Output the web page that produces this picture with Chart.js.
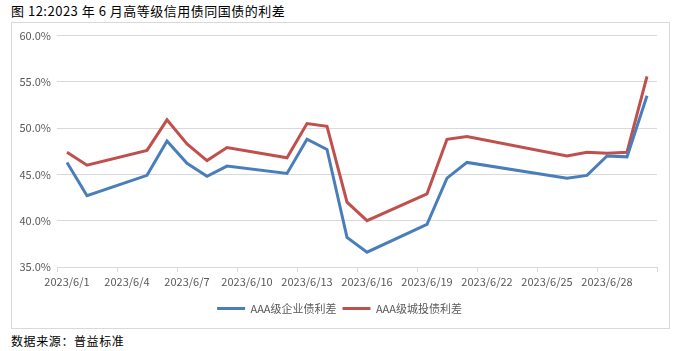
<!DOCTYPE html>
<html>
<head>
<meta charset="utf-8">
<script src="https://cdn.jsdelivr.net/npm/chart.js@4/dist/chart.umd.min.js"></script>
<style>
    body { margin: 0; width: 679px; height: 351px; background: #fff; position: relative; overflow: hidden;
           font-family: "Noto Sans CJK SC", "Noto Sans", sans-serif; }
    .title { position: absolute; left: 11px; top: 1px; font-size: 13px; color: #000; letter-spacing: 0.5px; white-space: nowrap; }
    .frame { position: absolute; left: 11px; top: 22px; width: 657px; height: 305px; border: 1px solid #d9d9d9; }
    .frame canvas { display: block; }
    .source { position: absolute; left: 11px; top: 332px; font-size: 12px; color: #000; letter-spacing: 0.6px; white-space: nowrap; }
</style>
</head>
<body>
<div class="title">图 12:2023 年 6 月高等级信用债同国债的利差</div>
<div class="frame"><canvas id="chart" width="657" height="305"></canvas></div>
<div class="source">数据来源：普益标准</div>
<script>
// every calendar day of June 2023; weekends and holidays have no value
const days = [];
for (let d = 1; d <= 30; d++) days.push('2023/6/' + d);

const corporateSpread = [
    46.3, 42.7, null, null, 44.9, 48.6, 46.2, 44.8, 45.9, null,
    null, 45.1, 48.8, 47.7, 38.2, 36.6, null, null, 39.6, 44.6,
    46.3, null, null, null, null, 44.6, 44.9, 47.0, 46.9, 53.5
];
const chengtouSpread = [
    47.4, 46.0, null, null, 47.6, 50.9, 48.3, 46.5, 47.9, null,
    null, 46.8, 50.5, 50.2, 42.0, 40.0, null, null, 42.9, 48.8,
    49.1, null, null, null, null, 47.0, 47.4, 47.3, 47.4, 55.6
];
const seriesNames = ['AAA级企业债利差', 'AAA级城投债利差'];
const yTicks = { min: 35, max: 60, step: 5 };

const blue = '#4a7ebb';
const red = '#c0504d';
const grey = '#d9d9d9';
const labelColor = '#595959';
const font = { family: '"Noto Sans CJK SC", "Noto Sans", sans-serif', size: 11 };

// the legend sits centred on the whole frame, not on the plot
const legendShift = {
    id: 'legendShift',
    afterLayout: function (chart) {
        chart.legend.left += 5;
        chart.legend.right += 5;
    }
};

new Chart(document.getElementById('chart').getContext('2d'), {
    type: 'line',
    data: {
        labels: days,
        datasets: [{
            label: seriesNames[0],
            data: corporateSpread,
            borderColor: blue,
            backgroundColor: blue,
            borderWidth: 3,
            pointRadius: 0,
            spanGaps: true,
            tension: 0
        }, {
            label: seriesNames[1],
            data: chengtouSpread,
            borderColor: red,
            backgroundColor: red,
            borderWidth: 3,
            pointRadius: 0,
            spanGaps: true,
            tension: 0
        }]
    },
    options: {
        responsive: false,
        animation: false,
        events: [],
        layout: { padding: { top: 12, right: 12, left: 0, bottom: 4 } },
        plugins: {
            tooltip: { enabled: false },
            legend: {
                position: 'bottom',
                labels: {
                    color: labelColor,
                    font: font,
                    boxWidth: 28,
                    boxHeight: 3,
                    padding: 6,
                    generateLabels: function (chart) {
                        const items = Chart.defaults.plugins.legend.labels.generateLabels(chart);
                        items.forEach(function (item) { item.lineWidth = 0; });
                        return items;
                    }
                }
            }
        },
        scales: {
            x: {
                offset: true,
                grid: {
                    offset: true,
                    drawOnChartArea: false,
                    tickLength: 5,
                    color: function (ctx) {
                        return (ctx.index === undefined || ctx.index % 3 === 0) ? grey : 'rgba(0,0,0,0)';
                    }
                },
                border: { color: grey },
                ticks: {
                    autoSkip: false,
                    maxRotation: 0,
                    minRotation: 0,
                    padding: 3,
                    color: labelColor,
                    font: font,
                    callback: function (value, index) {
                        return index % 3 === 0 ? days[index] : '';
                    }
                },
                afterFit: function (scale) { scale.height = 30; }
            },
            y: {
                min: yTicks.min,
                max: yTicks.max,
                grid: { color: grey, drawTicks: false },
                border: { display: false },
                ticks: {
                    stepSize: yTicks.step,
                    padding: 6,
                    color: labelColor,
                    font: font,
                    callback: function (value) { return value.toFixed(1) + '%'; }
                },
                afterFit: function (scale) { scale.width = 45; }
            }
        }
    },
    plugins: [legendShift]
});
</script>
</body>
</html>
